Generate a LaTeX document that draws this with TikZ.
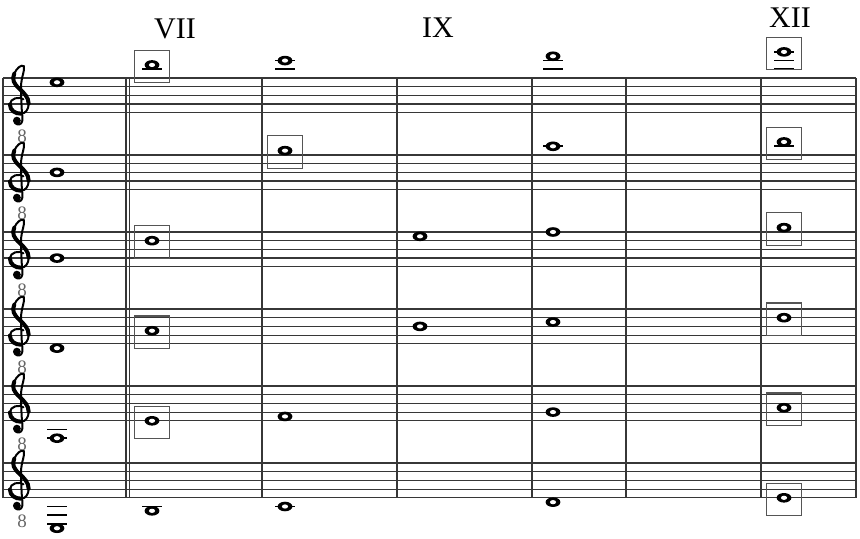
\documentclass[tikz,border=0pt]{standalone}
\usepackage{fontspec}
\setmainfont{Liberation Serif}
\usetikzlibrary{shapes.geometric}

\begin{document}
\begin{tikzpicture}[x=0.5pt,y=-0.5pt]
            \definecolor{line_color}{RGB}{55,55,55}
            \definecolor{box_color}{RGB}{85,85,85}
            \tikzstyle{staffline} = [line_color, line width=0.6pt]
            \tikzstyle{bar} = [line_color, line width=0.6pt]
            \tikzstyle{ledger} = [black, line width=0.8pt]
            \tikzstyle{wnote} = [ellipse, fill=black, inner sep=0pt, minimum width=7.4pt, minimum height=4.8pt,
              path picture={\fill[white, rotate around={-35:(path picture bounding box.center)}]
                (path picture bounding box.center) ellipse [x radius=1.55pt, y radius=1.05pt];}]
            \tikzstyle{harm} = [draw=box_color, line width=0.55pt, minimum width=17.5pt, minimum height=16.25pt, inner sep=0pt, yshift=-0.75pt]
            \tikzstyle{octave} = [font=\fontsize{9.5}{9.5}\selectfont, text=black!60, inner sep=0pt]
            \tikzstyle{fret} = [font=\fontsize{15}{15}\selectfont, inner sep=0pt]
            \tikzstyle{clefline} = [line width=1pt, line cap=round]
            \tikzstyle{clefthick} = [line width=2pt, line cap=round]
            % treble clef, drawn in staff spaces round the G line
            \tikzset{gclef/.pic={
              \draw[clefline] (0.45,0.55) .. controls (0.0,0.9) and (-1.1,0.7) .. (-1.1,-0.05)
                .. controls (-1.1,-0.75) and (-0.45,-1.1) .. (0.15,-1.1)
                .. controls (0.75,-1.1) and (1.05,-0.55) .. (1.05,0.05)
                .. controls (1.05,0.75) and (0.55,1.25) .. (0.0,1.75)
                .. controls (-0.65,2.35) and (-0.9,2.8) .. (-0.6,3.5)
                .. controls (-0.35,4.1) and (0.2,4.6) .. (0.5,4.35)
                .. controls (0.6,3.7) and (0.25,3.2) .. (0.2,2.4)
                .. controls (0.15,1.5) and (0.2,0.5) .. (0.25,-0.5)
                .. controls (0.3,-1.3) and (0.45,-1.9) .. (0.2,-2.2)
                .. controls (0.0,-2.45) and (-0.55,-2.35) .. (-0.55,-2.0);
              \draw[clefthick] (-1.1,-0.05) .. controls (-1.1,-0.75) and (-0.45,-1.1) .. (0.15,-1.1);
              \draw[clefthick] (1.05,0.05) .. controls (1.05,0.75) and (0.55,1.25) .. (0.0,1.75)
                .. controls (-0.65,2.35) and (-0.9,2.8) .. (-0.6,3.5);
              \fill (-0.3,-1.9) circle (0.45);
            }}
            \useasboundingbox (0,0) rectangle (860,539);
            % six staves, one per string
            \foreach \t in {78,155,232,309,386,463}
              \foreach \k in {0,...,4}
                \draw[staffline] (3,\t+\k*8.7) -- (856,\t+\k*8.7);
            \foreach \x in {3,126,129.5,262,397,532,626,761,856}
              \draw[bar] (\x,78) -- (\x,497.8);
            % clefs with the 8 below
            \foreach \t [count=\i] in {78,155,232,309,386,463} {
              \begin{scope}[shift={(19.5,\t+26.1)}, x=4.35pt, y=4.35pt]
                \pic {gclef};
              \end{scope}
              \node[octave] (oct\i) at (22,\t+58) {8};
            }
            % fret labels
            \node[fret] (vii) at (175,29) {VII};
            \node[fret] (ix) at (438,28) {IX};
            \node[fret] (xii) at (790,18) {XII};
            % ledger lines
            \draw[ledger] (142,69.3) -- (162,69.3);
            \draw[ledger] (275,69.3) -- (295,69.3);
            \draw[ledger] (275,60.6) -- (295,60.6);
            \draw[ledger] (543,69.3) -- (563,69.3);
            \draw[ledger] (543,60.6) -- (563,60.6);
            \draw[ledger] (774,69.3) -- (794,69.3);
            \draw[ledger] (774,60.6) -- (794,60.6);
            \draw[ledger] (774,51.9) -- (794,51.9);
            \draw[ledger] (543,146.3) -- (563,146.3);
            \draw[ledger] (774,146.3) -- (794,146.3);
            \draw[ledger] (47,429.5) -- (67,429.5);
            \draw[ledger] (47,438.2) -- (67,438.2);
            \draw[ledger] (47,506.5) -- (67,506.5);
            \draw[ledger] (47,515.2) -- (67,515.2);
            \draw[ledger] (47,523.9) -- (67,523.9);
            \draw[ledger] (142,506.5) -- (162,506.5);
            \draw[ledger] (275,506.5) -- (295,506.5);
            % string 1
            \node[wnote] (e_open) at (57,82.35) {};
            \node[wnote] (e_vii) at (152,64.95) {};
            \node[wnote] (e_v) at (285,60.6) {};
            \node[wnote] (e_iv) at (553,56.25) {};
            \node[wnote] (e_xii) at (784,51.9) {};
            \node[harm] (e_vii_box) at (152,64.95) {};
            \node[harm] (e_xii_box) at (784,51.9) {};
            % string 2
            \node[wnote] (b_open) at (57,172.4) {};
            \node[wnote] (b_v) at (285,150.65) {};
            \node[wnote] (b_iv) at (553,146.3) {};
            \node[wnote] (b_xii) at (784,141.95) {};
            \node[harm] (b_v_box) at (285,150.65) {};
            \node[harm] (b_xii_box) at (784,141.95) {};
            % string 3
            \node[wnote] (g_open) at (57,258.1) {};
            \node[wnote] (g_vii) at (152,240.7) {};
            \node[wnote] (g_ix) at (420,236.35) {};
            \node[wnote] (g_iv) at (553,232) {};
            \node[wnote] (g_xii) at (784,227.65) {};
            \node[harm] (g_vii_box) at (152,240.7) {};
            \node[harm] (g_xii_box) at (784,227.65) {};
            % string 4
            \node[wnote] (d_open) at (57,348.15) {};
            \node[wnote] (d_vii) at (152,330.75) {};
            \node[wnote] (d_ix) at (420,326.4) {};
            \node[wnote] (d_iv) at (553,322.05) {};
            \node[wnote] (d_xii) at (784,317.7) {};
            \node[harm] (d_vii_box) at (152,330.75) {};
            \node[harm] (d_xii_box) at (784,317.7) {};
            % string 5
            \node[wnote] (a_open) at (57,438.2) {};
            \node[wnote] (a_vii) at (152,420.8) {};
            \node[wnote] (a_v) at (285,416.45) {};
            \node[wnote] (a_iv) at (553,412.1) {};
            \node[wnote] (a_xii) at (784,407.75) {};
            \node[harm] (a_vii_box) at (152,420.8) {};
            \node[harm] (a_xii_box) at (784,407.75) {};
            % string 6
            \node[wnote] (el_open) at (57,528.25) {};
            \node[wnote] (el_vii) at (152,510.85) {};
            \node[wnote] (el_v) at (285,506.5) {};
            \node[wnote] (el_iv) at (553,502.15) {};
            \node[wnote] (el_xii) at (784,497.8) {};
            \node[harm] (el_xii_box) at (784,497.8) {};
        \end{tikzpicture}
\end{document}
